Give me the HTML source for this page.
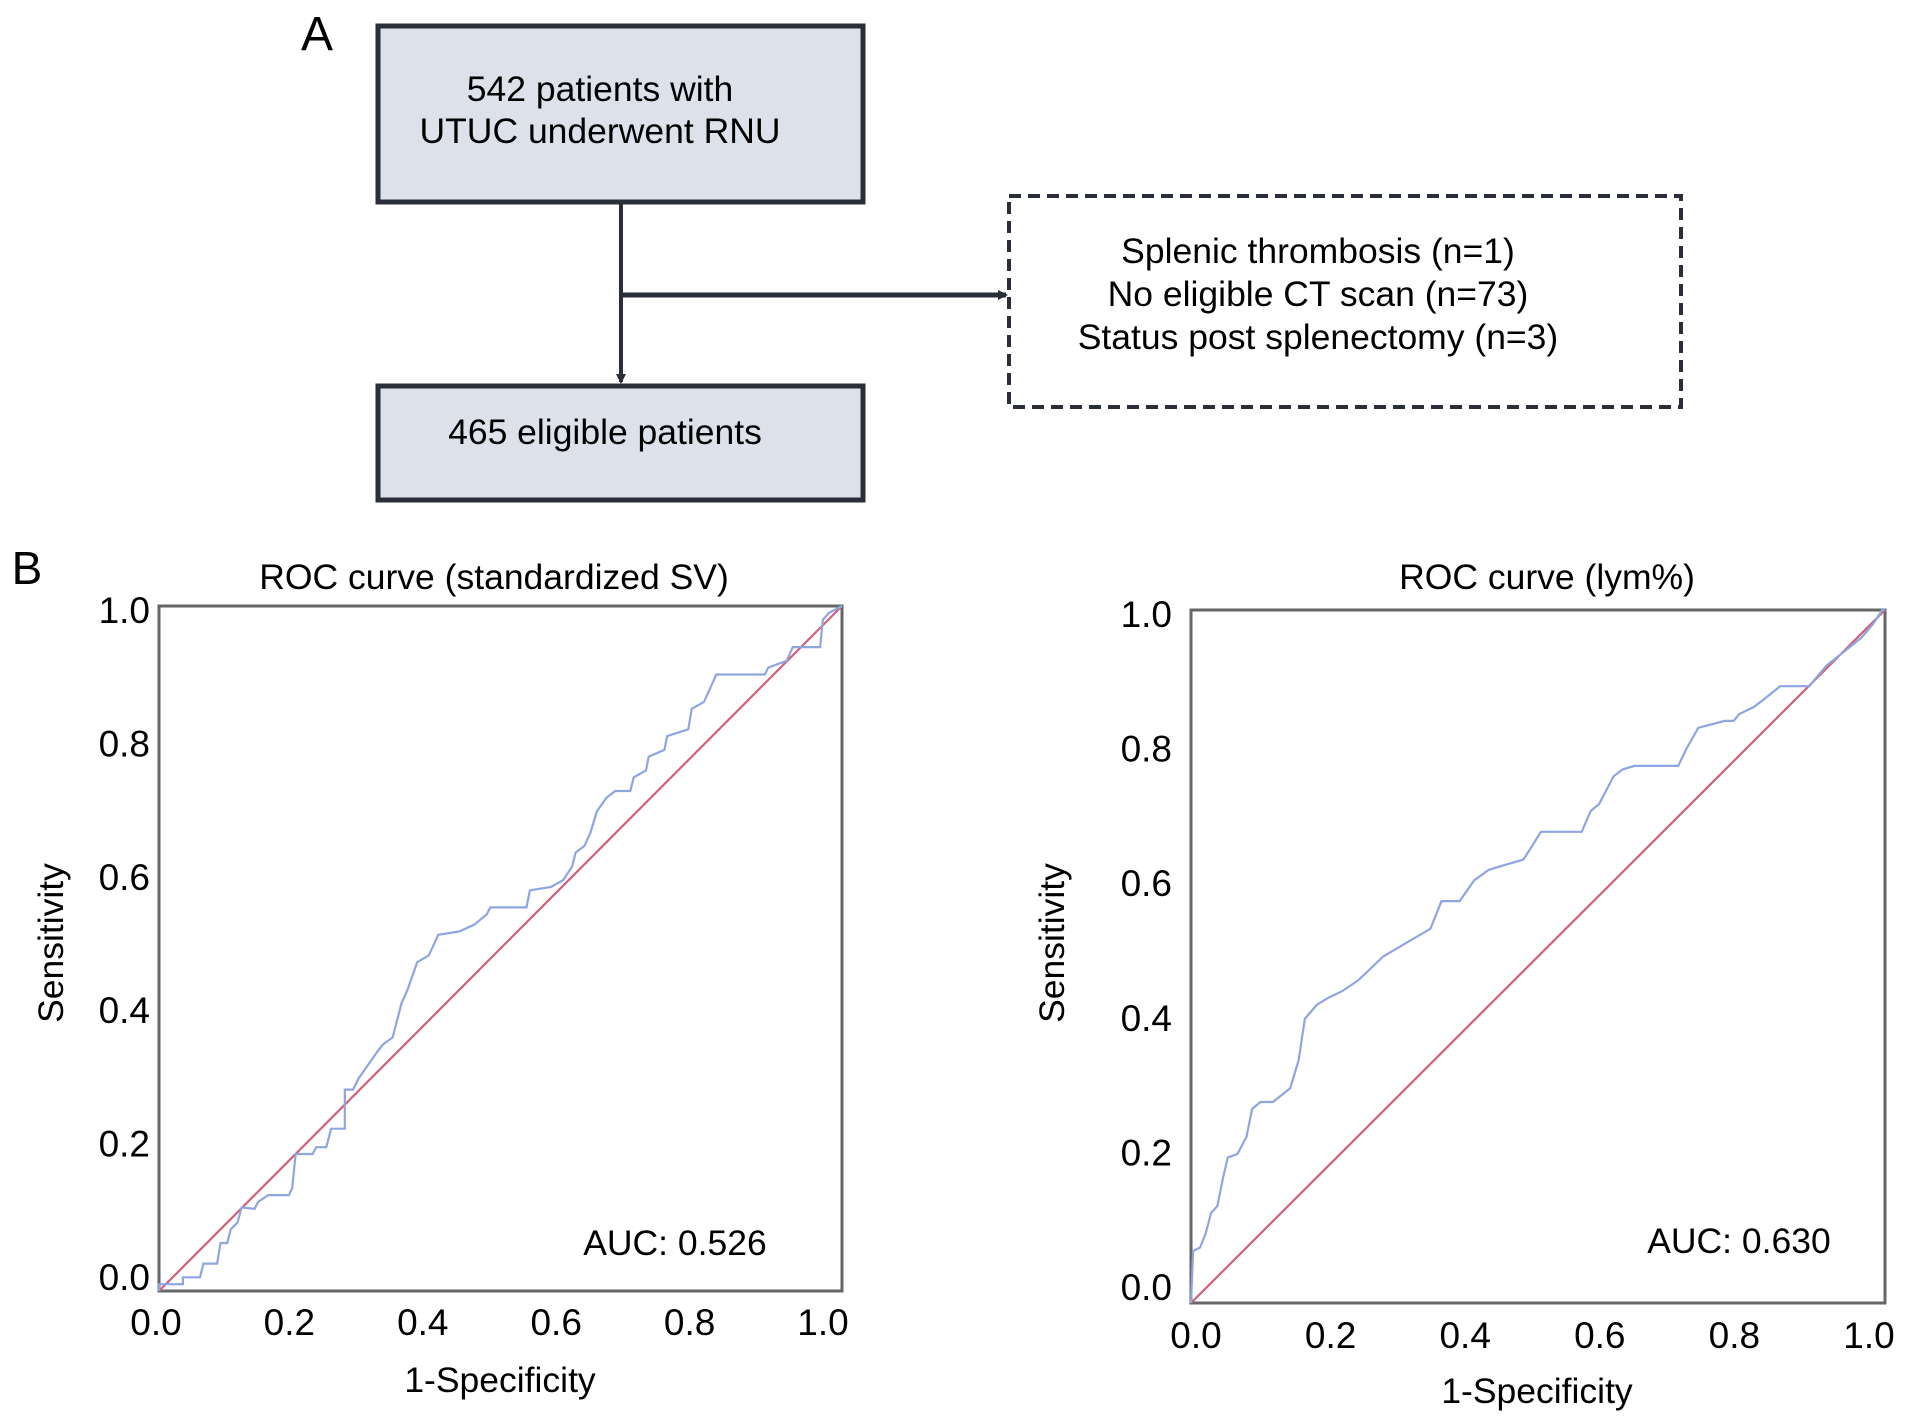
<!DOCTYPE html>
<html><head><meta charset="utf-8"><style>
html,body{margin:0;padding:0;background:#fff;}
svg{display:block;font-family:"Liberation Sans",sans-serif;}
</style></head><body>
<svg id="fig" width="1913" height="1424" viewBox="0 0 1913 1424">
<defs>
<marker id="arr" markerWidth="10" markerHeight="10" refX="8" refY="5" orient="auto" markerUnits="userSpaceOnUse"><path d="M0,0 L10,5 L0,10 z" fill="#2a2e38"/></marker>
</defs>
<g>
<text x="317" y="50" font-size="48" text-anchor="middle">A</text>
<rect x="378" y="26" width="485" height="176" fill="#dde1ea" stroke="#2a2e38" stroke-width="5"/>
<text x="600" y="101" font-size="35.5" text-anchor="middle">542 patients with</text>
<text x="600" y="143" font-size="35.5" text-anchor="middle">UTUC underwent RNU</text>
<line x1="621" y1="203" x2="621" y2="382" stroke="#2a2e38" stroke-width="4" marker-end="url(#arr)"/>
<line x1="621" y1="295" x2="1006" y2="295" stroke="#2a2e38" stroke-width="5" marker-end="url(#arr)"/>
<rect x="1009" y="196" width="672" height="211" fill="#fff" stroke="#2a2e38" stroke-width="4" stroke-dasharray="12,7"/>
<text x="1318" y="263" font-size="35.5" text-anchor="middle">Splenic thrombosis (n=1)</text>
<text x="1318" y="306" font-size="35.5" text-anchor="middle">No eligible CT scan (n=73)</text>
<text x="1318" y="349" font-size="35.5" text-anchor="middle">Status post splenectomy (n=3)</text>
<rect x="378" y="386" width="485" height="114" fill="#dde1ea" stroke="#2a2e38" stroke-width="5"/>
<text x="605" y="444" font-size="35.5" text-anchor="middle">465 eligible patients</text>
</g>
<text x="27" y="584" font-size="46" text-anchor="middle">B</text>
<g id="left"></g>
<g id="right"></g>
</svg>
<script>
const ticks = [0, 0.2, 0.4, 0.6, 0.8, 1.0];
const tickLabels = ["0.0", "0.2", "0.4", "0.6", "0.8", "1.0"];
const svFpr = [0,0,0.035,0.035,0.06,0.065,0.085,0.09,0.1,0.105,0.115,0.121,0.14,0.145,0.16,0.19,0.195,0.2,0.225,0.23,0.245,0.252,0.272,0.272,0.284,0.292,0.306,0.32,0.328,0.342,0.355,0.364,0.378,0.395,0.409,0.44,0.462,0.48,0.485,0.538,0.543,0.574,0.592,0.605,0.61,0.623,0.632,0.641,0.655,0.668,0.69,0.695,0.713,0.717,0.74,0.744,0.775,0.78,0.798,0.807,0.816,0.887,0.892,0.919,0.928,0.968,0.972,0.981,1];
const svTpr = [0,0.01,0.01,0.02,0.02,0.04,0.04,0.07,0.07,0.09,0.1,0.122,0.12,0.13,0.14,0.14,0.15,0.2,0.2,0.21,0.21,0.237,0.237,0.294,0.294,0.31,0.33,0.35,0.36,0.37,0.42,0.44,0.48,0.49,0.52,0.525,0.535,0.55,0.56,0.56,0.585,0.59,0.6,0.62,0.64,0.65,0.67,0.7,0.72,0.73,0.73,0.75,0.76,0.78,0.79,0.81,0.82,0.85,0.86,0.88,0.9,0.9,0.91,0.92,0.94,0.94,0.98,0.99,1];
const lymFpr = [0,0.003,0.013,0.021,0.029,0.038,0.046,0.053,0.067,0.08,0.088,0.1,0.118,0.143,0.155,0.164,0.181,0.197,0.218,0.24,0.256,0.277,0.294,0.311,0.345,0.361,0.387,0.408,0.429,0.445,0.479,0.492,0.504,0.563,0.576,0.588,0.609,0.622,0.639,0.702,0.714,0.731,0.769,0.782,0.79,0.811,0.824,0.849,0.891,0.899,0.916,0.941,0.966,0.983,0.996,1];
const lymTpr = [0,0.075,0.08,0.1,0.13,0.14,0.18,0.21,0.215,0.24,0.28,0.29,0.29,0.31,0.35,0.41,0.43,0.44,0.45,0.465,0.48,0.5,0.51,0.52,0.54,0.58,0.58,0.61,0.625,0.63,0.64,0.66,0.68,0.68,0.71,0.72,0.76,0.77,0.775,0.775,0.8,0.83,0.84,0.84,0.85,0.86,0.87,0.89,0.89,0.9,0.92,0.94,0.96,0.98,1,1];

const NS = "http://www.w3.org/2000/svg";
function mk(parent, tag, attrs, txt) {
  const e = document.createElementNS(NS, tag);
  for (const k in attrs) e.setAttribute(k, attrs[k]);
  if (txt !== undefined) e.textContent = txt;
  parent.appendChild(e);
  return e;
}
function drawChart(g, cfg, fpr, tpr) {
  const xs = v => cfg.x0 + v * (cfg.x1 - cfg.x0);
  const ys = v => cfg.y1 - v * (cfg.y1 - cfg.y0);
  const t = mk(g, "text", {x: cfg.titleX, y: cfg.titleY, "font-size": 35.5, "text-anchor": "middle"}, cfg.title);
  
  
  const r = mk(g, "rect", {x: cfg.x0, y: cfg.y0, width: cfg.x1 - cfg.x0, height: cfg.y1 - cfg.y0, fill: "#fff", stroke: "#666", "stroke-width": 3});
  
  
  ticks.forEach((v, i) => {
    const yl = mk(g, "text", {x: cfg.yLabX, y: cfg.yl0 - v * (cfg.yl0 - cfg.yl1) + 13, "font-size": 37, "text-anchor": "end"}, tickLabels[i]);
    
    
    const xl = mk(g, "text", {x: cfg.xl0 + v * (cfg.xl1 - cfg.xl0), y: cfg.xLabY + 2, "font-size": 37, "text-anchor": "middle"}, tickLabels[i]);
    
    
  });
  const d = mk(g, "line", {x1: xs(0), y1: ys(0), x2: xs(1), y2: ys(1), stroke: "#d0607a", "stroke-width": 2.2});
  
  
  const pts = fpr.map((f, i) => xs(f).toFixed(1) + "," + ys(tpr[i]).toFixed(1)).join(" ");
  const p = mk(g, "polyline", {points: pts, fill: "none", stroke: "#8da6e2", "stroke-width": 2.2});
  
  
  const xt = mk(g, "text", {x: cfg.xTitleX, y: cfg.xTitleY, "font-size": 35.5, "text-anchor": "middle"}, "1-Specificity");
  
  
  const yt = mk(g, "text", {x: 0, y: 0, "font-size": 35.5, "text-anchor": "middle", transform: "translate(" + (cfg.yTitleX + 12) + "," + cfg.yTitleY + ") rotate(-90)"}, "Sensitivity");
  
  
  const a = mk(g, "text", {x: cfg.aucX, y: cfg.aucY + 12, "font-size": 35.5, "text-anchor": "middle"}, cfg.auc);
  
  
}
drawChart(document.getElementById("left"), {
  x0: 159, x1: 842, y0: 606, y1: 1291, title: "ROC curve (standardized SV)", titleX: 494, titleY: 589,
  yLabX: 150, yl0: 1277, yl1: 610, xl0: 156, xl1: 823, xLabY: 1333,
  xTitleX: 500, xTitleY: 1392, yTitleX: 51, yTitleY: 943, auc: "AUC: 0.526", aucX: 675, aucY: 1243
}, svFpr, svTpr);
drawChart(document.getElementById("right"), {
  x0: 1191, x1: 1885, y0: 610, y1: 1303, title: "ROC curve (lym%)", titleX: 1547, titleY: 589,
  yLabX: 1172, yl0: 1287, yl1: 614, xl0: 1196, xl1: 1869, xLabY: 1346,
  xTitleX: 1537, xTitleY: 1403, yTitleX: 1052, yTitleY: 943, auc: "AUC: 0.630", aucX: 1739, aucY: 1241
}, lymFpr, lymTpr);
</script>
</body></html>
